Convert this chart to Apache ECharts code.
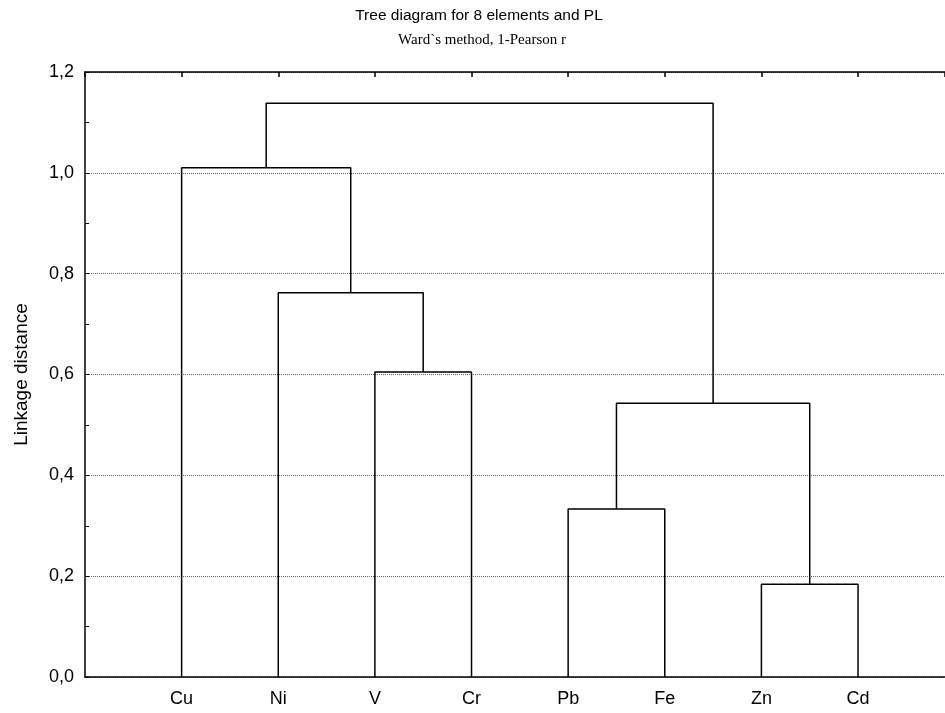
<!DOCTYPE html>
<html>
<head>
<meta charset="utf-8">
<title>Tree diagram for 8 elements and PL</title>
<script src="https://cdn.jsdelivr.net/npm/echarts@6/dist/echarts.min.js"></script>
<style>
  html, body { margin: 0; padding: 0; background: #fff; }
  #chart { width: 945px; height: 713px; }
</style>
</head>
<body>
<div id="chart"></div>
<script>
// Leaves in dendrogram order
const leaves = ['Cu', 'Ni', 'V', 'Cr', 'Pb', 'Fe', 'Zn', 'Cd'];

// Merge steps: [left node, right node, linkage distance].
// Nodes 0..7 are leaves; each merge creates node 8, 9, ...
const mergeLeft = [6, 4, 9, 2, 1, 0, 13];
const mergeRight = [7, 5, 8, 3, 11, 12, 10];
const mergeHeight = [0.184, 0.333, 0.543, 0.605, 0.762, 1.010, 1.138];

const yTicks = [0, 0.2, 0.4, 0.6, 0.8, 1.0, 1.2];

// Node positions: leaves at 1..n, clusters at the midpoint of their children
const nodeX = leaves.map((_, i) => i + 1);
const nodeH = leaves.map(() => 0);
const segments = [];
for (let k = 0; k < mergeHeight.length; k++) {
  const a = mergeLeft[k], b = mergeRight[k], h = mergeHeight[k];
  segments.push([
    [nodeX[a], nodeH[a]],
    [nodeX[a], h],
    [nodeX[b], h],
    [nodeX[b], nodeH[b]]
  ]);
  nodeX.push((nodeX[a] + nodeX[b]) / 2);
  nodeH.push(h);
}

const sans = 'Liberation Sans, Arial, sans-serif';
const narrow = 'Liberation Sans Narrow, Arial Narrow, sans-serif';
const serif = 'Liberation Serif, Times New Roman, serif';

const chart = echarts.init(document.getElementById('chart'), null, { renderer: 'canvas' });

chart.setOption({
  animation: false,
  backgroundColor: '#fff',
  title: [
    {
      text: 'Tree diagram for 8 elements and PL',
      left: 474, top: 3, textAlign: 'center',
      textStyle: { fontFamily: narrow, fontSize: 15.5, fontWeight: 'normal', color: '#000' }
    },
    {
      text: 'Ward`s method, 1-Pearson r',
      left: 477, top: 28, textAlign: 'center',
      textStyle: { fontFamily: serif, fontSize: 15, fontWeight: 'normal', color: '#000' }
    }
  ],
  grid: { left: 85, right: 0, top: 72, bottom: 36, containLabel: false },
  xAxis: [
    {
      type: 'value', position: 'bottom', min: 0, max: 8.9, interval: 1,
      axisLine: { show: true, onZero: false, lineStyle: { color: '#000', width: 1.5 } },
      axisTick: { show: false },
      splitLine: { show: false },
      axisLabel: {
        margin: 13, fontFamily: sans, fontSize: 18, color: '#000',
        showMinLabel: true, showMaxLabel: false,
        formatter: v => (Number.isInteger(v) && v >= 1 && v <= leaves.length) ? leaves[v - 1] : ''
      }
    },
    {
      type: 'value', position: 'top', min: 0, max: 8.9, interval: 1,
      axisLine: { show: true, onZero: false, lineStyle: { color: '#000', width: 1.5 } },
      axisTick: {
        show: true, inside: true, length: 5,
        lineStyle: { color: '#000', width: 1.5 }
      },
      axisLabel: { show: false },
      splitLine: { show: false }
    }
  ],
  yAxis: {
    type: 'value', min: 0, max: 1.2, interval: 0.2,
    name: 'Linkage distance', nameLocation: 'middle', nameGap: 54, nameRotate: 90,
    nameTextStyle: { fontFamily: sans, fontSize: 19, color: '#000' },
    axisLine: { show: true, onZero: false, lineStyle: { color: '#000', width: 1.5 } },
    axisTick: { show: true, inside: true, length: 4, lineStyle: { color: '#000' } },
    minorTick: { show: true, splitNumber: 2, length: 4, lineStyle: { color: '#000' } },
    axisLabel: {
      margin: 11, fontFamily: sans, fontSize: 18, color: '#000',
      formatter: v => {
        const t = yTicks.find(x => Math.abs(x - v) < 1e-9);
        return t === undefined ? '' : t.toFixed(1).replace('.', ',');
      }
    },
    splitLine: {
      show: true,
      lineStyle: { color: '#666', width: 1, type: [1, 1] }
    }
  },
  series: segments.map((pts, i) => ({
    name: 'link' + i,
    type: 'line',
    data: pts,
    symbol: 'none',
    silent: true,
    lineStyle: { color: '#000', width: 1.5 },
    z: 3
  }))
});
</script>
</body>
</html>
